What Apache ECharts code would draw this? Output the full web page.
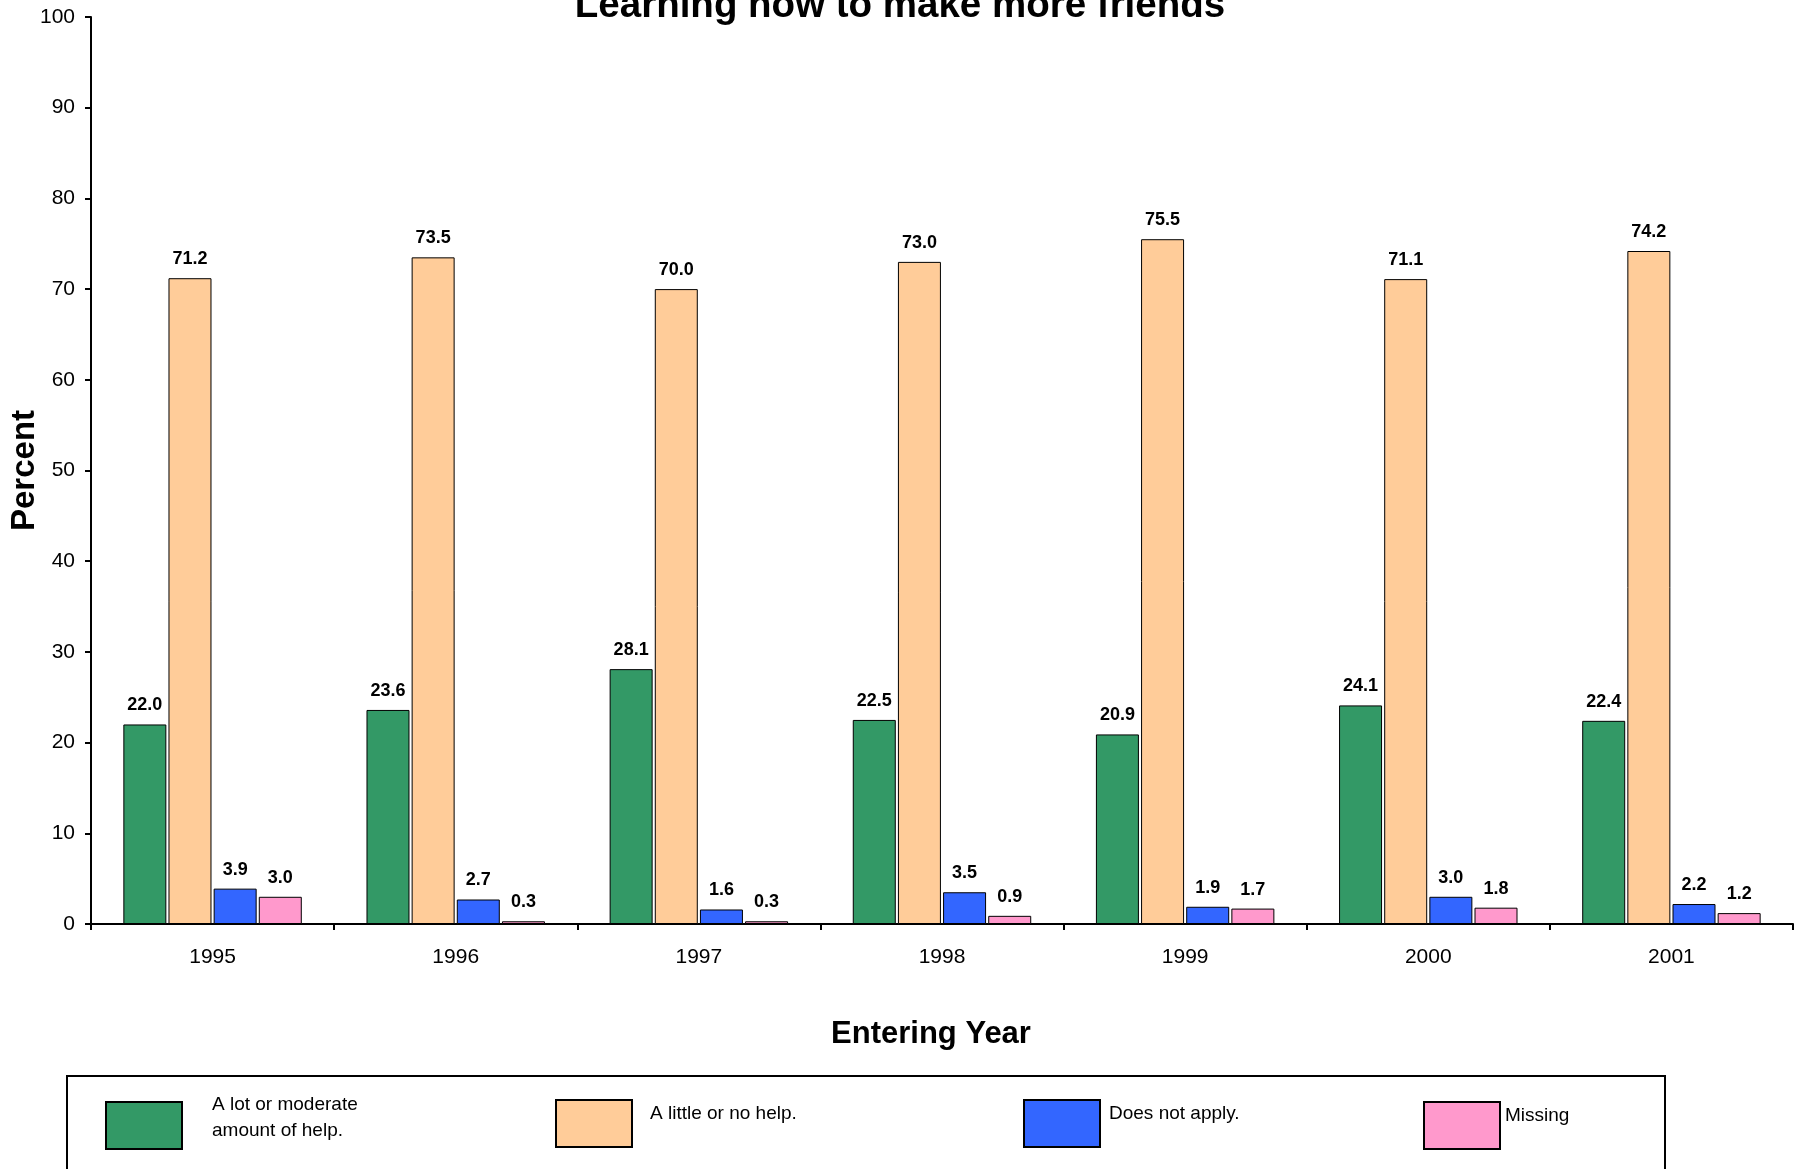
<!DOCTYPE html>
<html><head><meta charset="utf-8">
<script src="https://cdn.jsdelivr.net/npm/echarts@6/dist/echarts.min.js"></script>
<style>html,body{margin:0;padding:0;background:#fff}#c{width:1805px;height:1169px}</style>
</head><body><div id="c"></div>
<script>
const categories = ['1995','1996','1997','1998','1999','2000','2001'];
const seriesNames = ['A lot or moderate amount of help.','A little or no help.','Does not apply.','Missing'];
const legendLines = [['A lot or moderate','amount of help.'],['A little or no help.'],['Does not apply.'],['Missing']];
const lotHelp = [22.0, 23.6, 28.1, 22.5, 20.9, 24.1, 22.4];
const littleHelp = [71.2, 73.5, 70.0, 73.0, 75.5, 71.1, 74.2];
const notApply = [3.9, 2.7, 1.6, 3.5, 1.9, 3.0, 2.2];
const missing = [3.0, 0.3, 0.3, 0.9, 1.7, 1.8, 1.2];
const colors = ['#339966','#FFCC99','#3366FF','#FF99CC'];
const values = [lotHelp, littleHelp, notApply, missing];
const FONT = '"Liberation Sans", Arial, sans-serif';

const series = values.map((v,i)=>({
  name: seriesNames[i], type:'bar', data:v, barWidth:43, barGap:'5%',
  itemStyle:{color:colors[i], borderColor:'#000', borderWidth:1},
  label:{show:true, position:'top', distance:10, fontFamily:FONT, fontWeight:'bold', fontSize:18, color:'#000',
    formatter:p=>p.value.toFixed(1)}
}));

const legendLefts = [105, 555, 1023, 1423];
const legendTops = [1095, 1099, 1099, 1101];
const textPads = [25, 13, 4, 0];
const legends = seriesNames.map((n,i)=>{
  const multi = legendLines[i].length > 1;
  return {
    data:[n], left:legendLefts[i], top:legendTops[i], padding:0, icon:'rect',
    itemWidth:76, itemHeight:47, itemGap:0, selectedMode:false,
    itemStyle:{borderColor:'#000', borderWidth:2},
    formatter:()=>legendLines[i].map(s=>'{a|'+s+'}').join('\n') + '\n{b|}',
    textStyle:{fontFamily:FONT, fontSize:19, color:'#000',
      rich:{
        a:{fontFamily:FONT, fontSize:19, color:'#000', lineHeight: multi?26:22, padding:[0,0,0,textPads[i]]},
        b:{fontSize:1, lineHeight: multi?16:19}
      }}
  };
});

const chart = echarts.init(document.getElementById('c'));
chart.setOption({
  animation:false,
  color:colors,
  title:{text:'Learning how to make more friends', left:895, textAlign:'center', top:-18,
    textStyle:{fontFamily:FONT, fontSize:38.5, fontWeight:'bold', color:'#000'}},
  legend:legends,
  grid:{left:91, right:12, top:17, bottom:245, containLabel:false, outerBoundsMode:'none'},
  xAxis:{type:'category', data:categories, name:'Entering Year', nameLocation:'middle', nameGap:95,
    nameMoveOverlap:false,
    nameTextStyle:{fontFamily:FONT, fontSize:31, fontWeight:'bold', color:'#000', padding:[0,22,0,0]},
    axisLine:{lineStyle:{color:'#000', width:2}},
    axisTick:{show:true, length:6, lineStyle:{color:'#000', width:2}},
    axisLabel:{fontFamily:FONT, fontSize:21, color:'#000', margin:23}},
  yAxis:{type:'value', min:0, max:100, interval:10, name:'Percent', nameLocation:'middle', nameGap:50,
    nameMoveOverlap:false,
    nameTextStyle:{fontFamily:FONT, fontSize:33, fontWeight:'bold', color:'#000'},
    axisLine:{show:true, lineStyle:{color:'#000', width:2}},
    axisTick:{show:true, length:6, lineStyle:{color:'#000', width:2}},
    splitLine:{show:false},
    axisLabel:{fontFamily:FONT, fontSize:21, color:'#000', margin:16}},
  graphic:[{type:'rect', shape:{x:67, y:1076, width:1598, height:120}, style:{fill:'none', stroke:'#000', lineWidth:2}, z:-1}],
  series:series
});
</script></body></html>
